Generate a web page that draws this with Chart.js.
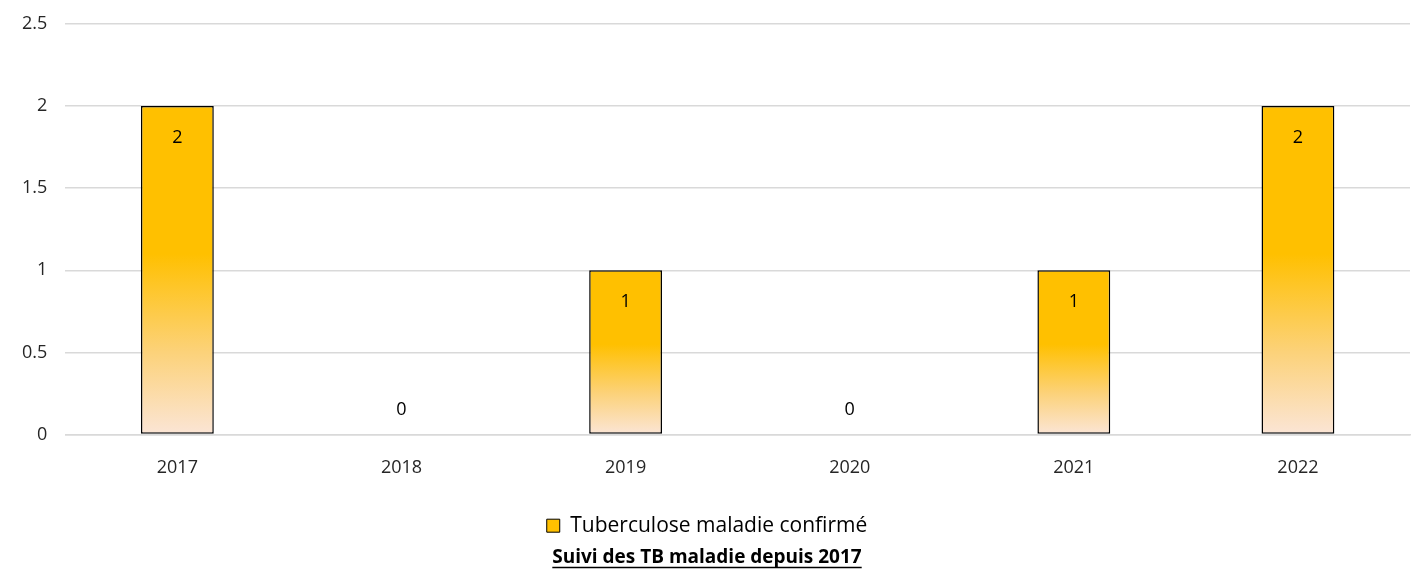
<!DOCTYPE html>
<html>
<head>
<meta charset="utf-8">
<script src="https://cdn.jsdelivr.net/npm/chart.js@4"></script>
<style>
  html, body { margin: 0; padding: 0; background: #fff; }
  #wrap { width: 1414px; height: 573px; }
</style>
</head>
<body>
<div id="wrap"><canvas id="tbChart"></canvas></div>
<script>
// donnees du graphique
const annees = ['2017', '2018', '2019', '2020', '2021', '2022'];
const cas = [2, 0, 1, 0, 1, 2];
const nomSerie = 'Tuberculose maladie confirmé';
const titre = 'Suivi des TB maladie depuis 2017';

const police = "'Open Sans', 'Noto Sans', sans-serif";
const tailleTitre = 19;

// degrade de chaque barre: or en haut, peche clair en bas
function couleurBarre(context) {
    const chart = context.chart;
    const y = chart.scales.y;
    if (!chart.chartArea || !y) return '#FFC000';
    const v = context.raw;
    const haut = y.getPixelForValue(v);
    const bas = y.getPixelForValue(0);
    if (bas - haut < 1) return '#FFC000';
    const g = chart.ctx.createLinearGradient(0, haut, 0, bas);
    g.addColorStop(0, '#FFC000');
    g.addColorStop(0.45, '#FFC000');
    g.addColorStop(0.75, '#FCD27A');
    g.addColorStop(1, '#FBE5D6');
    return g;
}

// etiquettes de donnees
const etiquettes = {
    id: 'etiquettes',
    afterDatasetsDraw(chart) {
        const ctx = chart.ctx;
        const meta = chart.getDatasetMeta(0);
        ctx.save();
        ctx.font = '18px ' + police;
        ctx.fillStyle = '#000';
        ctx.textAlign = 'center';
        ctx.textBaseline = 'middle';
        meta.data.forEach((bar, i) => {
            const v = cas[i];
            const y = v === 0 ? bar.base - 25 : bar.y + 32;
            ctx.fillText(String(v), bar.x, y);
        });
        ctx.restore();
    }
};

// soulignement du titre
const souligne = {
    id: 'souligne',
    afterDraw(chart) {
        const t = chart.titleBlock;
        if (!t) return;
        const ctx = chart.ctx;
        ctx.save();
        ctx.font = 'bold ' + tailleTitre + 'px ' + police;
        const w = ctx.measureText(titre).width;
        const cx = (t.left + t.right) / 2;
        const yb = t.top + tailleTitre * 0.6 + 10;
        ctx.strokeStyle = '#000';
        ctx.lineWidth = 1.5;
        ctx.beginPath();
        ctx.moveTo(cx - w / 2, yb);
        ctx.lineTo(cx + w / 2, yb);
        ctx.stroke();
        ctx.restore();
    }
};

const chart = new Chart(document.getElementById('tbChart').getContext('2d'), {
    type: 'bar',
    data: {
        labels: annees,
        datasets: [{
            label: nomSerie,
            data: cas,
            backgroundColor: couleurBarre,
            borderColor: '#000',
            borderWidth: (c) => c.raw === 0 ? 0 : 1.5,
            borderSkipped: false,
            barPercentage: 0.325,
            categoryPercentage: 1
        }]
    },
    options: {
        responsive: true,
        maintainAspectRatio: false,
        animation: false,
        layout: { padding: { left: 4, right: 4, top: 24, bottom: 0 } },
        scales: {
            x: {
                grid: { display: false },
                border: { color: '#D9D9D9', width: 1.5 },
                ticks: { color: '#262626', font: { family: police, size: 18 }, padding: 14 }
            },
            y: {
                min: 0,
                max: 2.5,
                afterFit: (s) => { s.paddingTop = 0; },
                ticks: {
                    stepSize: 0.5,
                    color: '#262626',
                    font: { family: police, size: 18 },
                    padding: 18,
                    callback: (v) => String(v)
                },
                grid: { color: '#D9D9D9', lineWidth: 1.5, drawTicks: false },
                border: { display: false }
            }
        },
        plugins: {
            legend: {
                position: 'bottom',
                labels: {
                    color: '#262626',
                    font: { family: police, size: 21 },
                    boxWidth: 13,
                    boxHeight: 13,
                    padding: 23,
                    generateLabels: () => [{
                        text: nomSerie,
                        fillStyle: '#FFC000',
                        strokeStyle: '#000',
                        lineWidth: 1,
                        datasetIndex: 0
                    }]
                }
            },
            title: {
                display: true,
                text: titre,
                position: 'bottom',
                color: '#000',
                font: { family: police, size: tailleTitre, weight: 'bold' },
                padding: { top: 0, bottom: 4 }
            },
            tooltip: { enabled: false }
        }
    },
    plugins: [etiquettes, souligne]
});
</script>
</body>
</html>
